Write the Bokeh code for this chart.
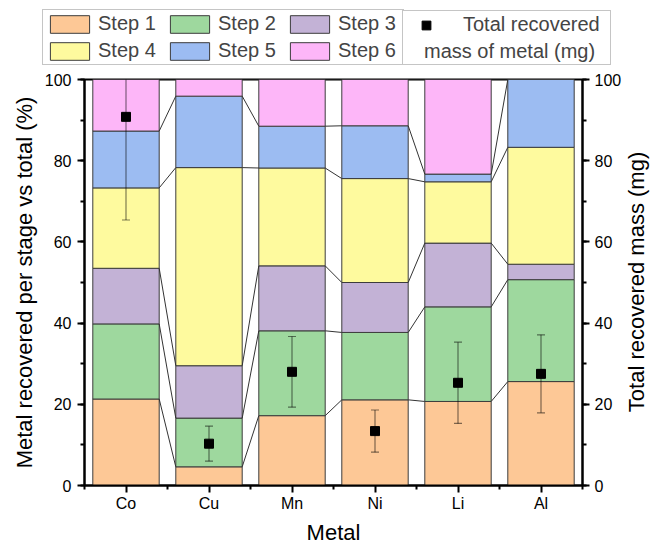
import numpy as np
from bokeh.plotting import figure
from bokeh.layouts import column
from bokeh.models import (Range1d, LinearAxis, FixedTicker, SingleIntervalTicker,
                          ColumnDataSource, Legend, LegendItem)
from bokeh.embed import file_html
from bokeh.resources import INLINE

# ---------------- data ----------------
metals = ["Co", "Cu", "Mn", "Ni", "Li", "Al"]
step_names = ["Step 1", "Step 2", "Step 3", "Step 4", "Step 5", "Step 6"]
step1 = [21.3, 4.6, 17.2, 21.1, 20.7, 25.6]
step2 = [18.5, 12.0, 20.9, 16.6, 23.3, 25.1]
step3 = [13.7, 12.9, 16.0, 12.3, 15.7, 3.8]
step4 = [19.8, 48.8, 24.1, 25.6, 15.1, 28.8]
step5 = [14.0, 17.6, 10.3, 13.0, 1.9, 16.7]
step6 = [12.7, 4.1, 11.5, 11.4, 23.3, 0.0]
mass = [90.8, 10.3, 28.0, 13.4, 25.3, 27.5]
mass_err = [25.4, 4.3, 8.7, 5.2, 10.0, 9.6]
step_colors = ["#FDC896", "#9ED89E", "#C3B2D6", "#FEFA9E", "#9CBCF2", "#FDB6F8"]
x_title = "Metal"
y_title = "Metal recovered per stage vs total (%)"
y2_title = "Total recovered mass (mg)"
mass_label_1 = "Total recovered"
mass_label_2 = "mass of metal (mg)"

FONT = "Liberation Sans"
BAR_W = 0.8
W = 664
LH = 72                      # height of the legend strip
BL, BR, BT, BB = 84, 71, 7, 62
FH = 406

steps = [step1, step2, step3, step4, step5, step6]
keys = ["s1", "s2", "s3", "s4", "s5", "s6"]
xpos = list(range(1, len(metals) + 1))

data = {"x": xpos}
for k, s in zip(keys, steps):
    data[k] = s
src = ColumnDataSource(data)


def no_frame_align(fig):
    if "frame_align" in fig.properties():
        fig.frame_align = False


# ---------------- main plot ----------------
p = figure(width=W, height=BT + FH + BB,
           x_range=Range1d(0.5, len(metals) + 0.5), y_range=Range1d(0, 100),
           output_backend="svg", toolbar_location=None,
           min_border_left=BL, min_border_right=BR, min_border_top=BT, min_border_bottom=BB)
no_frame_align(p)
p.extra_y_ranges = {"mass": Range1d(0, 100)}
p.grid.visible = False
p.outline_line_color = "black"
p.outline_line_width = 2
p.background_fill_color = "white"
p.border_fill_color = "white"

bars = p.vbar_stack(keys, x="x", width=BAR_W, source=src,
                    fill_color=step_colors, line_color="#3c3c3c", line_width=1)

# connecting lines between adjacent bars
cum = np.cumsum(np.array(steps), axis=0)  # (steps, metals)
x0s, y0s, x1s, y1s = [], [], [], []
for i in range(len(metals) - 1):
    for k in range(len(steps)):
        x0s.append(xpos[i] + BAR_W / 2)
        y0s.append(float(cum[k, i]))
        x1s.append(xpos[i + 1] - BAR_W / 2)
        y1s.append(float(cum[k, i + 1]))
p.segment(x0=x0s, y0=y0s, x1=x1s, y1=y1s, line_color="#333333", line_width=1)

# error bars + mass markers (right axis)
lower = [m - e for m, e in zip(mass, mass_err)]
upper = [m + e for m, e in zip(mass, mass_err)]
p.segment(x0=xpos, y0=lower, x1=xpos, y1=upper, y_range_name="mass",
          line_color="black", line_alpha=0.5, line_width=1.2)
p.scatter(x=xpos + xpos, y=lower + upper, marker="dash", size=8, y_range_name="mass",
          line_color="black", line_alpha=0.5, line_width=1.2)
p.scatter(x=xpos, y=mass, marker="square", size=9, y_range_name="mass",
          fill_color="black", line_color="black")

# axes
p.xaxis.ticker = FixedTicker(ticks=xpos, minor_ticks=[v - 0.5 for v in xpos] + [xpos[-1] + 0.5])
p.xaxis.major_label_overrides = {v: m for v, m in zip(xpos, metals)}
p.xaxis.axis_label = x_title
p.yaxis.ticker = SingleIntervalTicker(interval=20, num_minor_ticks=2)
p.yaxis.axis_label = y_title
raxis = LinearAxis(y_range_name="mass",
                   ticker=SingleIntervalTicker(interval=20, num_minor_ticks=2))
p.add_layout(raxis, "right")
# right title reads bottom-to-top like the left one; anchored at the axis start,
# padded with no-break spaces so that it sits centred along the axis
raxis.axis_label = "\u00a0" * 12 + y2_title
raxis.axis_label_orientation = np.pi / 2
raxis.axis_label_align = "start"

for ax in [p.xaxis[0], p.yaxis[0], raxis]:
    ax.axis_line_width = 2
    ax.axis_line_color = "black"
    ax.major_tick_in = 0
    ax.major_tick_out = 7
    ax.minor_tick_in = 0
    ax.minor_tick_out = 4
    ax.major_tick_line_width = 2
    ax.minor_tick_line_width = 2
    ax.major_label_text_font = FONT
    ax.major_label_text_font_size = "16px"
    ax.major_label_text_color = "black"
    ax.axis_label_text_font = FONT
    ax.axis_label_text_font_size = "22px"
    ax.axis_label_text_font_style = "normal"
    ax.axis_label_text_color = "black"
p.yaxis.major_label_standoff = 6
p.yaxis.axis_label_standoff = 5
raxis.major_label_standoff = 5
raxis.axis_label_standoff = 12
p.xaxis.major_label_standoff = 2
p.xaxis.axis_label_standoff = 5

# ---------------- legend strip ----------------
lf = figure(width=W, height=LH, x_range=Range1d(0, 1), y_range=Range1d(0, 1),
            output_backend="svg", toolbar_location=None,
            x_axis_location=None, y_axis_location=None, min_border=0)
no_frame_align(lf)
lf.outline_line_color = None
lf.grid.visible = False
lf.background_fill_color = "white"
lf.border_fill_color = "white"

proxies = lf.vbar_stack(keys, x="x", width=BAR_W, source=src, visible=False,
                        fill_color=step_colors, line_color="#3c3c3c", line_width=1)
sq_proxy = lf.scatter(x=xpos, y=mass, marker="square", visible=False,
                      fill_color="black", line_color="black")
blank = lf.scatter(x=[], y=[], marker="square", fill_alpha=0, line_alpha=0)

LEG_BOTTOM = LH - 65
common = dict(margin=0, padding=2, spacing=4, glyph_height=22, label_height=22,
              label_text_font=FONT, label_text_font_size="20px",
              border_line_color="#8c8c8c", border_line_width=1,
              background_fill_color="white", background_fill_alpha=1,
              inactive_fill_alpha=0)
leg1 = Legend(items=[LegendItem(label=n, renderers=[r]) for n, r in zip(step_names, proxies)],
              location=(42, LEG_BOTTOM), orientation="horizontal", ncols=3,
              glyph_width=49, label_width=63, label_standoff=4, **common)
lf.add_layout(leg1, "center")

leg2 = Legend(items=[LegendItem(label=mass_label_1, renderers=[sq_proxy]),
                     LegendItem(label=" ", renderers=[blank])],
              location=(402, LEG_BOTTOM), orientation="vertical",
              glyph_width=42, label_width=145, label_standoff=16, **common)
lf.add_layout(leg2, "center")

common3 = dict(common)
common3.update(border_line_alpha=0, background_fill_alpha=0)
leg3 = Legend(items=[LegendItem(label=mass_label_2, renderers=[blank])],
              location=(402, LEG_BOTTOM), orientation="vertical",
              glyph_width=20, label_width=150, label_standoff=0, **common3)
lf.add_layout(leg3, "center")

layout = column(lf, p, spacing=0)
open("out.html", "w").write(file_html(layout, INLINE))
